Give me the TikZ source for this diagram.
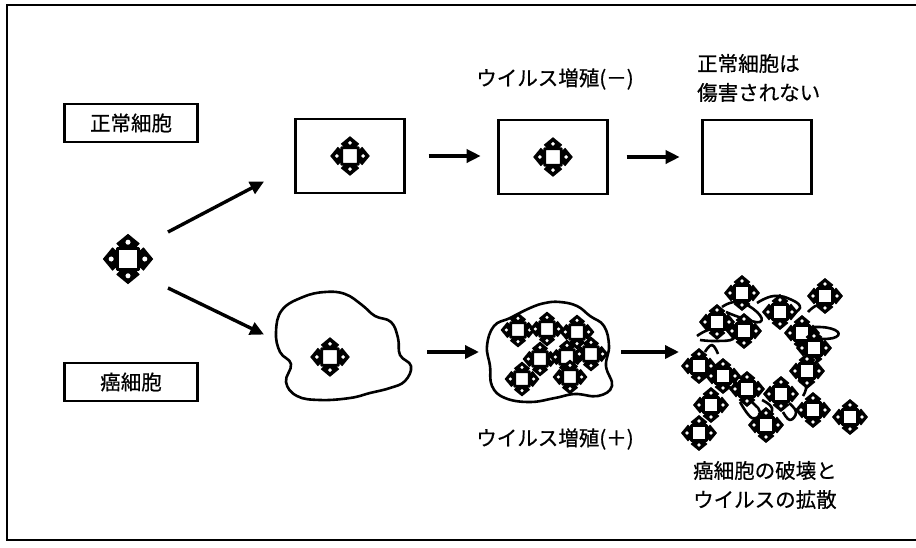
\documentclass[tikz,border=0pt]{standalone}
\usepackage{fontspec}
\newfontfamily\jp[FakeBold=0.6]{Noto Sans CJK JP}
\usetikzlibrary{arrows.meta}
\begin{document}
\begin{tikzpicture}[x=1pt,y=-1pt,
  lbl/.style={font=\jp\fontsize{20.5}{29}\selectfont, inner sep=0pt},
  namebox/.style={draw, line width=2.4pt, minimum width=133pt, minimum height=38pt, font=\jp\fontsize{20.5}{24}\selectfont},
  cellbox/.style={draw, line width=2.4pt, minimum width=109pt, minimum height=74pt},
  membrane/.style={line width=2.6pt, line join=round},
  flow/.style={line width=3.4pt, -{Triangle[length=14pt,width=13pt]}, shorten >=1pt},
  virus/.pic={
    \foreach \a in {0,90,180,270}{
      \fill[black, rotate=\a, rounded corners=0.05] (-0.3,0.45) -- (-0.56,0.74) -- (0,1.2) -- (0.56,0.74) -- (0.3,0.45) -- cycle;
      \fill[white, rotate=\a] (0,0.8) circle (0.12);
    }
    \draw[line width=2.6pt, fill=white, rounded corners=0.14] (-0.5,-0.5) rectangle (0.5,0.5);
  }]
\useasboundingbox (0,0) rectangle (916,547);

% outer frame (open on the right)
\draw[line width=2.6pt] (916,5) -- (7,5) -- (7,540) -- (916,540);

% row labels
\node[namebox] (normal) at (131,123) {正常細胞};
\node[namebox] (cancer) at (131,382) {癌細胞};

% free virus
\pic[scale=21] at (128,259) {virus};

% normal-cell row
\node[cellbox] (n1) at (350,156) {};
\node[cellbox] (n2) at (553,157) {};
\node[cellbox] (n3) at (757,157) {};
\pic[scale=16.5] at (n1.center) {virus};
\pic[scale=16.5] at (n2.center) {virus};

\draw[flow] (n1.east) ++(23,0) coordinate (a1s) -- ++(53,0) coordinate (a1e);
\draw[flow] (n2.east) ++(18,0) coordinate (a2s) -- ++(54,0) coordinate (a2e);

\node[lbl] (lminus) at (555,79) {ウイルス増殖(－)};
\node[lbl, anchor=west, align=left] (lsafe) at (697,78) {正常細胞は\\傷害されない};

% cancer-cell row: infected cell
\draw[membrane] plot[smooth cycle, tension=0.7] coordinates {
  (303,297) (325,292) (345,294) (362,305) (375,316) (391,322) (398,338) (400,355)
  (411,366) (405,381) (390,388) (370,393) (350,398) (320,400) (297,396) (286,382)
  (291,364) (280,352) (276,332) (282,310)};
\pic[scale=16.5] at (330,357) {virus};

% cell full of replicated virus
\draw[membrane] plot[smooth cycle, tension=0.7] coordinates {
  (560,302) (577,306) (590,316) (604,326) (609,346) (606,366) (612,386) (598,396)
  (575,394) (555,398) (530,402) (505,398) (492,386) (490,366) (487,346) (494,326)
  (510,318) (530,308) (545,303)};
\foreach \p in {(518,330),(547,329),(577,332),(540,359),(567,357),(591,354),(522,379),(570,377)}
  \pic[scale=14.5] at \p {virus};

% burst cell: membrane fragments and released virus
\draw[membrane] plot[smooth, tension=0.8] coordinates {(722,307) (738,302) (757,312) (760,322) (742,318) (726,312)};
\draw[membrane] plot[smooth, tension=0.8] coordinates {(757,303) (774,296) (792,300) (800,308) (790,314)};
\draw[membrane] plot[smooth, tension=0.8] coordinates {(697,336) (712,329) (730,331) (733,339) (716,341) (700,340)};
\draw[membrane] plot[smooth, tension=0.8] coordinates {(795,331) (815,327) (835,330) (836,337) (818,339) (800,337)};
\draw[membrane] plot[smooth, tension=0.8] coordinates {(808,312) (818,305) (828,308)};
\draw[membrane] plot[smooth, tension=0.8] coordinates {(705,352) (712,345) (718,354)};
\draw[membrane] plot[smooth, tension=0.8] coordinates {(735,385) (752,402) (760,412) (752,418) (740,402)};
\draw[membrane] plot[smooth, tension=0.8] coordinates {(762,400) (772,408) (768,418)};
\draw[membrane] plot[smooth, tension=0.8] coordinates {(789,403) (796,412) (790,420) (783,412)};
\draw[membrane] plot[smooth, tension=0.8] coordinates {(798,380) (806,386) (803,396)};
\draw[membrane] plot[smooth, tension=0.8] coordinates {(708,392) (718,398) (716,410)};
\foreach \p in {(742,293),(825,296),(780,312),(717,322),(744,331),(802,333),(814,348),
                (699,366),(723,376),(807,371),(747,389),(781,394),(711,405),(813,410),
                (850,417),(766,425),(699,433)}
  \pic[scale=15] at \p {virus};

\draw[flow] (427,352) coordinate (b1s) -- (480,352) coordinate (b1e);
\draw[flow] (621,352) coordinate (b2s) -- (680,352) coordinate (b2e);

\node[lbl] (lplus) at (555,439) {ウイルス増殖(＋)};
\node[lbl, anchor=west, align=left] (lburst) at (693,485) {癌細胞の破壊と\\ウイルスの拡散};

% infection arrows from the free virus
\coordinate (up) at (265,181);
\coordinate (down) at (265,335);
\draw[flow] (168,232) -- (up);
\draw[flow] (168,288) -- (down);
\end{tikzpicture}
\end{document}
